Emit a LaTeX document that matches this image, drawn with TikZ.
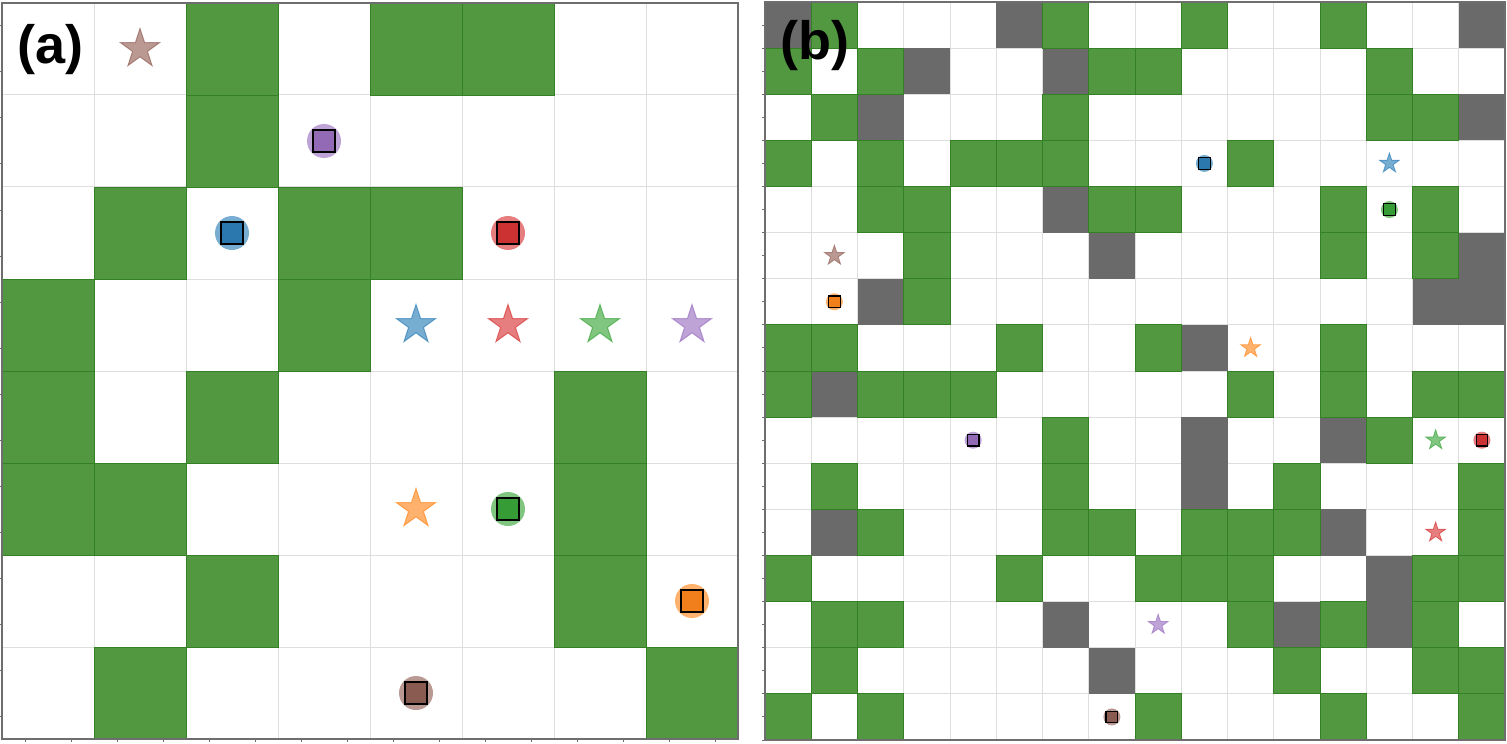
\documentclass[tikz,border=0pt]{standalone}
\usepackage{fontspec}
\setmainfont{Liberation Sans}
\usetikzlibrary{shapes.geometric}
\definecolor{wall}{RGB}{82,152,65}
\definecolor{walledge}{RGB}{52,128,36}
\definecolor{rock}{RGB}{106,106,106}
\definecolor{gridc}{RGB}{222,222,222}
\definecolor{framec}{RGB}{110,110,110}
\definecolor{tblue}{HTML}{1F77B4}
\definecolor{torange}{HTML}{FF7F0E}
\definecolor{tgreen}{HTML}{2CA02C}
\definecolor{tred}{HTML}{D62728}
\definecolor{tpurple}{HTML}{9467BD}
\definecolor{tbrown}{HTML}{8C564B}
\tikzset{
  wallcell/.style={fill=wall, draw=walledge, line width=0.4pt},
  rockcell/.style={fill=rock},
  gridline/.style={draw=gridc, line width=0.5pt},
  frameline/.style={draw=framec, line width=0.6pt},
  tickline/.style={draw=framec, line width=0.5pt},
  panellabel/.style={inner sep=0pt, font=\fontsize{27pt}{30pt}\selectfont\bfseries},
  goalA/.style={star, star points=5, star point ratio=2.618, minimum size=20.5pt, inner sep=0pt,
    fill=#1, fill opacity=0.6, draw=#1, draw opacity=0.6, line width=0.5pt},
  goalB/.style={star, star points=5, star point ratio=2.618, minimum size=10.5pt, inner sep=0pt,
    fill=#1, fill opacity=0.6, draw=#1, draw opacity=0.6, line width=0.4pt},
  haloA/.style={circle, minimum size=17pt, inner sep=0pt, fill=#1, fill opacity=0.6},
  haloB/.style={circle, minimum size=8.5pt, inner sep=0pt, fill=#1, fill opacity=0.6},
  boxA/.style={rectangle, minimum size=11pt, inner sep=0pt, fill=#1!88!gray, draw=black, line width=1pt},
  boxB/.style={rectangle, minimum size=5.8pt, inner sep=0pt, fill=#1!88!gray, draw=black, line width=0.6pt},
}
\begin{document}
\begin{tikzpicture}[x=0.5pt,y=-0.5pt]
\useasboundingbox (0,0) rectangle (1507,743);
\fill[white] (0,0) rectangle (1507,743);
% ---------------- panel (a) ----------------
\foreach \i in {1,...,7} {
  \draw[gridline] ({2+92*\i},3) -- ({2+92*\i},739);
  \draw[gridline] (2,{3+92*\i}) -- (738,{3+92*\i});
}
\foreach \c/\r in {2/0,4/0,5/0, 2/1, 1/2,3/2,4/2, 0/3,3/3, 0/4,2/4,6/4, 0/5,1/5,6/5, 2/6,6/6, 1/7,7/7}
  \filldraw[wallcell] ({2+92*\c},{3+92*\r}) rectangle +(92,92);
\foreach \i in {0,...,15} {
  \draw[tickline] (-0.5,{3+46*\i+23}) -- (2,{3+46*\i+23});
  \draw[tickline] ({2+46*\i+23},739) -- ({2+46*\i+23},741.5);
}
\draw[frameline] (2,3) rectangle (738,739);
\foreach \n/\c/\r/\col in {brown/1/0/tbrown, blue/4/3/tblue, red/5/3/tred, green/6/3/tgreen, purple/7/3/tpurple, orange/4/5/torange}
  \node[goalA=\col] (A-goal-\n) at ({48+92*\c},{49+92*\r}) {};
\foreach \n/\c/\r/\col in {purple/3/1/tpurple, blue/2/2/tblue, red/5/2/tred, green/5/5/tgreen, orange/7/6/torange, brown/4/7/tbrown} {
  \node[haloA=\col] (A-halo-\n) at ({48+92*\c},{49+92*\r}) {};
  \node[boxA=\col] (A-agent-\n) at (A-halo-\n.center) {};
}
\node[panellabel] (labelA) at (50.5,50) {(a)};
% ---------------- panel (b) ----------------
\foreach \i in {1,...,15} {
  \draw[gridline] ({765+46.25*\i},2) -- ({765+46.25*\i},740);
  \draw[gridline] (765,{2+46.125*\i}) -- (1505,{2+46.125*\i});
}
\foreach \c/\r in {0/0,5/0,15/0, 3/1,6/1, 2/2,15/2, 6/4, 7/5,15/5, 2/6,14/6,15/6, 9/7, 1/8, 9/9,12/9, 9/10, 1/11,12/11, 13/12, 6/13,11/13,13/13, 7/14}
  \fill[rockcell] ({765+46.25*\c},{2+46.125*\r}) rectangle +(46.25,46.125);
\foreach \c/\r in {1/0,6/0,9/0,12/0,
  0/1,2/1,7/1,8/1,13/1,
  1/2,6/2,13/2,14/2,
  0/3,2/3,4/3,5/3,6/3,10/3,
  2/4,3/4,7/4,8/4,12/4,14/4,
  3/5,12/5,14/5,
  3/6,
  0/7,1/7,5/7,8/7,12/7,
  0/8,2/8,3/8,4/8,10/8,12/8,14/8,15/8,
  6/9,13/9,
  1/10,6/10,11/10,15/10,
  2/11,6/11,7/11,9/11,10/11,11/11,15/11,
  0/12,5/12,8/12,9/12,10/12,14/12,15/12,
  1/13,2/13,10/13,12/13,14/13,
  1/14,11/14,14/14,15/14,
  0/15,2/15,8/15,12/15,15/15}
  \filldraw[wallcell] ({765+46.25*\c},{2+46.125*\r}) rectangle +(46.25,46.125);
\foreach \i in {0,...,31} {
  \draw[tickline] (761.5,{2+23.0625*\i+23.0625}) -- (765,{2+23.0625*\i+23.0625});
}
\draw[frameline] (765,2) rectangle (1505,740);
\foreach \n/\c/\r/\col in {blue/13/3/tblue, brown/1/5/tbrown, orange/10/7/torange, green/14/9/tgreen, red/14/11/tred, purple/8/13/tpurple}
  \node[goalB=\col] (B-goal-\n) at ({765+46.25*\c+23.125},{2+46.125*\r+23.06}) {};
\foreach \n/\c/\r/\col in {blue/9/3/tblue, green/13/4/tgreen, orange/1/6/torange, purple/4/9/tpurple, red/15/9/tred, brown/7/15/tbrown} {
  \node[haloB=\col] (B-halo-\n) at ({765+46.25*\c+23.125},{2+46.125*\r+23.06}) {};
  \node[boxB=\col] (B-agent-\n) at (B-halo-\n.center) {};
}
\node[panellabel] (labelB) at (814.5,46) {(b)};
\end{tikzpicture}
\end{document}
